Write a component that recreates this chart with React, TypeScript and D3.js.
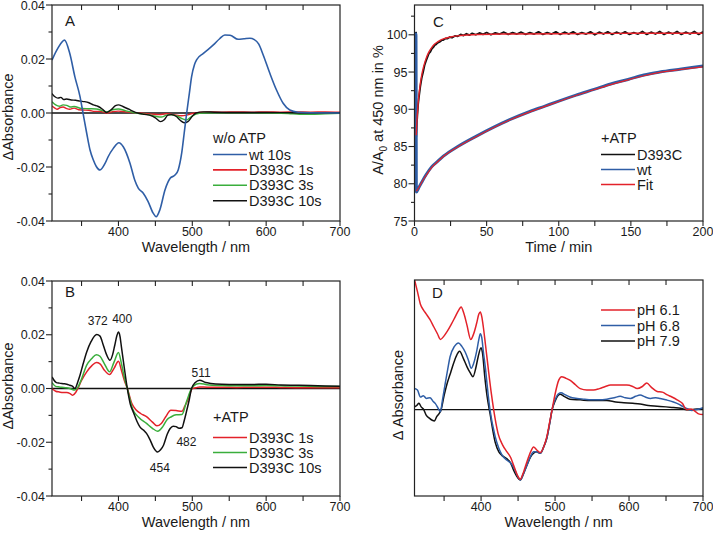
import React from 'react';
import * as d3 from 'd3';

type P = [number, number];

const FONT = '"Liberation Sans", Arial, Helvetica, sans-serif';
const RED = '#e3222a';
const GREEN = '#3aae3c';
const BLUE = '#2f5ea6';
const BLACK = '#111111';

// ---------- Panel A (w/o ATP) ----------
const A_wt10: P[] = [[310,0.0196],[318,0.024],[327,0.027],[334,0.0221],[341,0.0134],[348,0.006],[352,0],[357,-0.0075],[361.5,-0.0137],[366,-0.0174],[370,-0.0198],[375,-0.0211],[382,-0.0186],[386,-0.0162],[393,-0.0131],[400.6,-0.011],[406.5,-0.0125],[415.6,-0.0186],[422,-0.0248],[427,-0.0279],[433.6,-0.0297],[440,-0.0327],[447,-0.0371],[451,-0.0384],[456,-0.0359],[463,-0.0285],[470,-0.0242],[476.5,-0.023],[481,-0.021],[485.6,-0.0149],[489,-0.0075],[492.4,0],[496,0.0073],[499,0.0134],[503,0.018],[506,0.0198],[515,0.0221],[528.5,0.0252],[537,0.0275],[544,0.0289],[551,0.0288],[562,0.0273],[570,0.0275],[578,0.0277],[584,0.0272],[590,0.0255],[596,0.0215],[605,0.0147],[614,0.0085],[623,0.0036],[632,0.0011],[643,0.0003],[660,0.0001],[700,0.0]];
const A_d1s: P[] = [[310,0.0026],[314,0.0018],[317,0.0014],[321,0.002],[325,0.0022],[330,0.0016],[334,0.0014],[340,0.0018],[346,0.0012],[352,0.0011],[360,0.001],[368,0.0006],[375,0.0006],[384,0],[392,0.0005],[400,0.0007],[410,0.0004],[420,0.0002],[435,-0.0002],[445,-0.0004],[455,-0.0006],[465,-0.0003],[475,-0.0006],[485,-0.001],[492,-0.0008],[500,-0.0002],[510,0.0002],[520,0.0004],[540,0.0003],[560,0.0004],[580,0.0003],[600,0.0004],[620,0.0003],[640,0.0004],[660,0.0003],[680,0.0004],[700,0.0003]];
const A_d3s: P[] = [[310,0.0042],[315,0.003],[320,0.0025],[325,0.003],[330,0.0028],[335,0.0022],[340,0.0024],[350,0.0017],[360,0.0016],[370,0.0015],[378,0.0009],[384,0.0004],[392,0.0012],[400,0.0015],[410,0.0008],[420,0.0002],[430,-0.0003],[440,-0.0006],[450,-0.0012],[458,-0.0015],[465,-0.0008],[470,-0.0006],[480,-0.0012],[487,-0.0022],[492,-0.0026],[498,-0.0015],[505,-0.0004],[515,0],[530,0.0001],[560,0.0001],[600,0],[630,-0.0002],[645,-0.0005],[660,-0.0005],[680,-0.0003],[700,-0.0001]];
const A_d10s: P[] = [[310,0.0072],[314,0.006],[318,0.0055],[322,0.0058],[326,0.005],[330,0.0052],[336,0.0048],[342,0.0047],[348,0.0044],[354,0.0042],[360,0.0038],[366,0.003],[372,0.0025],[378,0.0015],[384,0.0002],[390,0.0012],[396,0.0027],[400,0.003],[406,0.0024],[414,0.0014],[420,0.0006],[426,0],[435,-0.0005],[442,-0.0008],[450,-0.0018],[457,-0.0032],[462,-0.0025],[467,-0.0008],[472,-0.0006],[478,-0.0012],[484,-0.0028],[489,-0.0036],[494,-0.0032],[500,-0.0012],[505,0],[515,0.0004],[530,0.0003],[560,0.0002],[600,0.0002],[640,0.0001],[680,0.0001],[700,0.0001]];

// ---------- Panel B (+ATP) ----------
const B_d1s: P[] = [[310,0],[315,-0.001],[320,-0.0013],[325,-0.0015],[330,-0.0015],[335,-0.002],[338,-0.0025],[342,-0.0015],[345,0],[350,0.003],[357,0.0062],[364,0.0085],[370,0.0097],[375,0.0092],[381,0.0068],[388,0.0052],[394,0.0075],[400,0.0101],[404,0.0068],[408,0.003],[412,0],[418,-0.0055],[424,-0.008],[430,-0.0093],[438,-0.0105],[446,-0.0125],[452,-0.0139],[458,-0.013],[464,-0.0105],[471,-0.0081],[478,-0.0082],[486,-0.0085],[490,-0.0065],[494,-0.0043],[500,0],[505,0.0003],[510,0.0006],[520,0.0005],[540,0.0005],[560,0.0004],[580,0.0005],[600,0.0005],[620,0.0004],[640,0.0003],[660,0.0003],[680,0.0003],[700,0.0003]];
const B_d3s: P[] = [[310,0.0022],[315,0.0008],[320,0.0006],[328,0.0003],[334,0],[341,-0.0006],[345,0.0005],[350,0.0035],[357,0.0087],[364,0.0112],[370,0.0126],[375,0.012],[381,0.0092],[388,0.0062],[394,0.0098],[400,0.0134],[404,0.0093],[408,0.004],[412,0],[419,-0.0075],[427,-0.0106],[438,-0.013],[446,-0.0148],[453,-0.0159],[460,-0.0142],[466,-0.0115],[471,-0.0106],[478,-0.0098],[486,-0.0097],[492,-0.005],[499,0],[505,0.0016],[510,0.0019],[520,0.0014],[540,0.0011],[560,0.001],[580,0.001],[600,0.0011],[620,0.001],[640,0.0009],[660,0.0008],[680,0.0007],[700,0.0007]];
const B_d10s: P[] = [[310,0.0043],[316,0.0022],[320,0.002],[325,0.0018],[330,0.0016],[334,0.0012],[338,0.0008],[341,0],[345,0.0025],[348,0.005],[352,0.009],[357,0.0136],[363,0.0175],[370.5,0.0201],[375,0.0195],[379.5,0.0161],[384,0.0125],[388.5,0.0105],[392,0.0125],[395,0.0161],[398,0.0198],[400,0.021],[402,0.0195],[404,0.0155],[408,0.0075],[412,0],[416,-0.0058],[420,-0.0087],[425,-0.0122],[429,-0.0143],[434,-0.0155],[438,-0.0167],[443,-0.0192],[447,-0.0217],[453,-0.0236],[457,-0.0228],[461,-0.0211],[466,-0.017],[470,-0.0149],[474,-0.014],[478,-0.0142],[482,-0.0148],[486,-0.0146],[489,-0.012],[492,-0.0087],[496,-0.004],[499,0],[504,0.0022],[510,0.0031],[518,0.0022],[525,0.0019],[540,0.0016],[560,0.0015],[580,0.0015],[600,0.0016],[620,0.0013],[640,0.0012],[660,0.0011],[680,0.0009],[700,0.0008]];

// ---------- Panel C (kinetics at 450 nm) ----------
const C_d393c: P[] = [[0,100.3],[0.6,100.2],[1.1,100.3],[1.2,86.3],[1.5,87.6],[2,89.2],[2.5,90.6],[3,91.5],[4,93.0],[5,94.2],[6,95.0],[7,95.9],[8,96.5],[9,97.0],[10,97.5],[11,97.7],[12,98.1],[13,98.3],[14,98.6],[15,98.7],[16,98.9],[17,99.0],[18,99.1],[19,99.3],[20,99.3],[21.5,99.5],[23,99.5],[24.5,99.7],[26,99.6],[28,99.85],[30,99.8],[32,100.05],[34,99.9],[36,100.15],[38,99.95],[40,100.2],[42.5,100.0],[45,100.25],[47.5,100.05],[50,100.3],[53,100.0],[56,100.25],[59,100.1],[62,100.35],[65,100.05],[68,100.3],[71,100.1],[74,100.35],[77,100.05],[80,100.3],[83,100.1],[86,100.4],[89,100.05],[92,100.3],[95,100.1],[98,100.4],[101,100.05],[104,100.35],[107,100.1],[110,100.4],[113,100.05],[116,100.3],[119,100.1],[122,100.4],[125,100.0],[128,100.35],[131,100.1],[134,100.4],[137,100.05],[140,100.35],[143,100.1],[146,100.4],[149,100.05],[152,100.3],[155,100.1],[158,100.45],[161,100.05],[164,100.35],[167,100.1],[170,100.45],[173,100.05],[176,100.35],[179,100.1],[182,100.45],[185,100.05],[188,100.35],[191,100.1],[194,100.45],[197,100.05],[200,100.4]];
const C_fitD393c: P[] = [[1.2,86.5],[1.5,87.8],[2,89.4],[2.5,90.7],[3,91.8],[4,93.4],[5,94.6],[6,95.5],[7,96.2],[8,96.8],[10,97.7],[12,98.3],[14,98.75],[16,99.05],[18,99.3],[20,99.45],[25,99.7],[30,99.85],[40,100.0],[60,100.1],[100,100.15],[150,100.2],[200,100.2]];
const C_wt: P[] = [[0,100.1],[1.0,100.1],[1.3,78.9],[3,79.5],[5,80.2],[8,81.2],[12,82.3],[16,83.0],[20,83.7],[30,85.0],[43,86.4],[55,87.6],[66,88.6],[80,89.7],[90,90.4],[100,91.1],[112,91.9],[125,92.7],[136,93.4],[148,94.0],[159,94.6],[170,95.0],[185,95.4],[200,95.8]];
const C_fitWt: P[] = [[1.3,79.0],[3,79.5],[5,80.2],[8,81.1],[12,82.2],[16,82.95],[20,83.65],[30,84.95],[43,86.35],[55,87.55],[66,88.55],[80,89.65],[90,90.35],[100,91.05],[112,91.85],[125,92.65],[136,93.3],[148,93.95],[159,94.5],[170,94.95],[185,95.35],[200,95.7]];

// ---------- Panel D (pH dependence, arbitrary units) ----------
const D_ph61: P[] = [[310,1.85],[314,1.68],[318,1.5],[322,1.42],[326,1.36],[331,1.28],[336,1.18],[341,1.08],[345,1.0],[350,1.05],[354,1.11],[360,1.22],[365,1.32],[370,1.42],[373,1.46],[377,1.36],[381,1.2],[386,1.0],[390,1.08],[394,1.23],[397,1.36],[399,1.39],[401,1.32],[403,1.18],[406,0.92],[410,0.56],[414,0.22],[417,0],[423,-0.34],[429,-0.5],[435,-0.6],[440,-0.68],[444,-0.79],[449,-0.93],[453,-0.99],[457,-0.9],[462,-0.74],[467,-0.6],[471,-0.53],[475,-0.57],[480,-0.61],[485,-0.52],[489,-0.38],[493,-0.16],[496,0],[500,0.22],[505,0.42],[509,0.47],[514,0.45],[520,0.42],[527,0.36],[534,0.3],[543,0.28],[552,0.28],[560,0.3],[568,0.33],[575,0.35],[585,0.35],[597,0.35],[605,0.33],[611,0.3],[618,0.33],[624,0.38],[630,0.32],[638,0.26],[645,0.25],[652,0.21],[658,0.18],[665,0.14],[672,0.09],[678,0],[684,0.01],[689,-0.02],[694,-0.06],[700,-0.07]];
const D_ph68: P[] = [[310,0.3],[314,0.28],[318,0.18],[322,0.2],[326,0.16],[331,0.17],[335,0.12],[338,0.09],[342,0.02],[345,-0.03],[348,0.15],[351.5,0.37],[355,0.58],[358,0.75],[364,0.9],[369.5,0.95],[374,0.9],[378.5,0.82],[383,0.7],[386.7,0.59],[390,0.66],[394,0.83],[397,1.0],[399,1.08],[401,1.02],[403,0.83],[406,0.58],[408,0.37],[412,0],[419,-0.38],[424,-0.55],[428,-0.64],[435,-0.72],[440,-0.76],[444,-0.82],[449,-0.94],[453,-1.0],[457,-0.92],[462,-0.79],[467,-0.66],[471,-0.6],[475,-0.6],[480,-0.62],[485,-0.52],[489,-0.4],[493,-0.18],[496,0],[500,0.14],[505,0.23],[508,0.24],[514,0.21],[520,0.18],[530,0.16],[540,0.15],[548,0.14],[560,0.14],[570,0.15],[580,0.17],[588,0.19],[595,0.17],[602,0.16],[609,0.19],[615,0.21],[622,0.18],[629,0.16],[636,0.17],[642,0.16],[650,0.14],[660,0.11],[667,0.08],[673.5,0.04],[680,0.01],[685,-0.01],[690,0],[695,0.01],[700,0.03]];
const D_ph79: P[] = [[310,0.04],[313,0.06],[316,0.09],[319,0.04],[322,0.01],[326,-0.08],[330,-0.12],[334,-0.15],[337,-0.16],[340,-0.1],[343,-0.06],[346,0],[350,0.2],[354,0.37],[358,0.5],[361,0.6],[366,0.75],[371,0.83],[376,0.73],[381,0.61],[385,0.53],[389,0.47],[393,0.6],[396,0.75],[400,0.88],[402,0.8],[405,0.47],[408,0.2],[412,-0.05],[419,-0.46],[424,-0.6],[428,-0.65],[435,-0.7],[440,-0.76],[444,-0.86],[449,-0.96],[453,-1.0],[457,-0.92],[462,-0.79],[467,-0.67],[471,-0.62],[475,-0.6],[480,-0.62],[485,-0.52],[489,-0.4],[493,-0.18],[496,0],[500,0.12],[504,0.2],[507,0.22],[512,0.19],[520,0.15],[534,0.14],[548,0.13],[560,0.13],[570,0.13],[582,0.11],[593,0.1],[605,0.09],[615,0.08],[626,0.06],[638,0.05],[650,0.04],[660,0.03],[670,0.02],[678,0],[685,0],[692,0.01],[700,0.01]];

// ---------- Ticks & labels ----------
const WL_MAJOR = [400, 500, 600, 700];
const WL_MINOR = [350, 450, 550, 650];
const WL_TOP = [350, 400, 450, 500, 550, 600, 650];
const ABS_MAJOR = [-0.04, -0.02, 0, 0.02, 0.04];
const ABS_MINOR = [-0.03, -0.01, 0.01, 0.03];
const TIME_MAJOR = [0, 50, 100, 150, 200];
const TIME_MINOR = [25, 75, 125, 175];
const TIME_TOP = [25, 50, 75, 100, 125, 150, 175];
const PCT_MAJOR = [75, 80, 85, 90, 95, 100];
const PCT_MINOR = [77.5, 82.5, 87.5, 92.5, 97.5, 102.5];

const LEG_A = ['wt 10s', 'D393C 1s', 'D393C 3s', 'D393C 10s'];
const LEG_B = ['D393C 1s', 'D393C 3s', 'D393C 10s'];
const LEG_C = ['D393C', 'wt', 'Fit'];
const LEG_D = ['pH 6.1', 'pH 6.8', 'pH 7.9'];
const ANNOT_B: { label: string; nm: number; v: number }[] = [
  { label: '372', nm: 372, v: 0.0236 },
  { label: '400', nm: 405, v: 0.0243 },
  { label: '511', nm: 512, v: 0.0044 },
  { label: '482', nm: 492, v: -0.0213 },
  { label: '454', nm: 456, v: -0.0311 },
];

type Series = { data: P[]; color: string; width: number; smooth?: boolean };

type PanelProps = {
  id: string;
  x0: number; x1: number; y0: number; y1: number;
  xDomain: [number, number]; yDomain: [number, number];
  xMajor: number[]; xMinor: number[]; xTop: number[];
  yMajor?: number[]; yMinor?: number[]; yFmt?: (v: number) => string;
  xTitle: string;
  yTitle: React.ReactNode; yTitleX: number; yTitleY: number;
  letter: string; letterX: number; letterY: number;
  series: Series[];
  zero?: boolean;
  legend: { title?: string; x: number; titleY?: number; y: number; dy: number; items: string[]; colors: string[] };
  children?: (x: d3.ScaleLinear<number, number>, y: d3.ScaleLinear<number, number>) => React.ReactNode;
};

function Panel(p: PanelProps) {
  const x = d3.scaleLinear().domain(p.xDomain).range([p.x0, p.x1]);
  const y = d3.scaleLinear().domain(p.yDomain).range([p.y1, p.y0]);
  const mk = (s: Series) =>
    d3.line<P>().x(d => x(d[0])).y(d => y(d[1])).curve(s.smooth === false ? d3.curveLinear : d3.curveMonotoneX)(s.data) || '';
  const L = p.legend;
  return (
    <g fontFamily={FONT} fill="#1a1a1a">
      <defs>
        <clipPath id={'clip' + p.id}>
          <rect x={p.x0} y={p.y0} width={p.x1 - p.x0} height={p.y1 - p.y0} />
        </clipPath>
      </defs>
      {p.zero && (
        <line x1={p.x0} x2={p.x1} y1={y(0)} y2={y(0)} stroke="#111" strokeWidth={1.3} />
      )}
      <g clipPath={`url(#clip${p.id})`}>
        {p.series.map((s, i) => (
          <path key={i} d={mk(s)} fill="none" stroke={s.color} strokeWidth={s.width} strokeLinejoin="round" />
        ))}
      </g>
      <rect x={p.x0} y={p.y0} width={p.x1 - p.x0} height={p.y1 - p.y0} fill="none" stroke="#222" strokeWidth={1.2} />
      {p.xMajor.map(v => (
        <g key={'xm' + v}>
          <line x1={x(v)} x2={x(v)} y1={p.y1} y2={p.y1 + 5} stroke="#222" strokeWidth={1.1} />
          <text x={x(v)} y={p.y1 + 15} textAnchor="middle" fontSize={12.5}>{v}</text>
        </g>
      ))}
      {p.xMinor.map(v => (
        <line key={'xn' + v} x1={x(v)} x2={x(v)} y1={p.y1} y2={p.y1 + 5} stroke="#222" strokeWidth={1.1} />
      ))}
      {p.xTop.map(v => (
        <line key={'xt' + v} x1={x(v)} x2={x(v)} y1={p.y0} y2={p.y0 + 5} stroke="#222" strokeWidth={1.1} />
      ))}
      {p.yMajor && p.yMajor.map(v => (
        <g key={'ym' + v}>
          <line x1={p.x0 - 6} x2={p.x0} y1={y(v)} y2={y(v)} stroke="#222" strokeWidth={1.1} />
          <text x={p.x0 - 7} y={y(v) + 4.5} textAnchor="end" fontSize={12.5}>{p.yFmt ? p.yFmt(v) : v}</text>
        </g>
      ))}
      {p.yMinor && p.yMinor.map(v => (
        <line key={'yn' + v} x1={p.x0 - 3.5} x2={p.x0} y1={y(v)} y2={y(v)} stroke="#222" strokeWidth={1.1} />
      ))}
      <text x={(p.x0 + p.x1) / 2} y={p.y1 + 31} textAnchor="middle" fontSize={14.5}>{p.xTitle}</text>
      <text transform={`translate(${p.yTitleX},${p.yTitleY}) rotate(-90)`} textAnchor="middle" fontSize={14.5}>{p.yTitle}</text>
      <text x={p.letterX} y={p.letterY} fontSize={15}>{p.letter}</text>
      {p.children && p.children(x, y)}
      {L.title && <text x={L.x} y={L.titleY} fontSize={14.5}>{L.title}</text>}
      {L.items.map((it, i) => (
        <g key={it}>
          <line x1={L.x} x2={L.x + 34} y1={L.y + i * L.dy} y2={L.y + i * L.dy} stroke={L.colors[i]} strokeWidth={1.6} />
          <text x={L.x + 36} y={L.y + i * L.dy + 5} fontSize={14.5}>{it}</text>
        </g>
      ))}
    </g>
  );
}

const fmtAbs = (v: number) => d3.format('.2f')(v).replace('−', '-');

export default function App() {
  return (
    <svg width={713} height={535} style={{ position: 'absolute', left: 0, top: 0, background: '#fff' }}>
      <rect x={0} y={0} width={713} height={535} fill="#fff" />
      <Panel
        id="A" x0={52} x1={340} y0={5} y1={221}
        xDomain={[310, 700]} yDomain={[-0.04, 0.04]}
        xMajor={WL_MAJOR} xMinor={WL_MINOR} xTop={WL_TOP}
        yMajor={ABS_MAJOR} yMinor={ABS_MINOR} yFmt={fmtAbs}
        xTitle="Wavelength / nm"
        yTitle="ΔAbsorbance" yTitleX={13} yTitleY={117}
        letter="A" letterX={65} letterY={26}
        zero
        series={[
          { data: A_d1s, color: RED, width: 1.4 },
          { data: A_d3s, color: GREEN, width: 1.4 },
          { data: A_d10s, color: BLACK, width: 1.4 },
          { data: A_wt10, color: BLUE, width: 1.6 },
        ]}
        legend={{ title: 'w/o ATP', x: 213, titleY: 143, y: 154.5, dy: 15.4, items: LEG_A, colors: [BLUE, RED, GREEN, BLACK] }}
      />
      <Panel
        id="B" x0={52} x1={340} y0={281} y1={496}
        xDomain={[310, 700]} yDomain={[-0.04, 0.04]}
        xMajor={WL_MAJOR} xMinor={WL_MINOR} xTop={WL_TOP}
        yMajor={ABS_MAJOR} yMinor={ABS_MINOR} yFmt={fmtAbs}
        xTitle="Wavelength / nm"
        yTitle="ΔAbsorbance" yTitleX={13} yTitleY={386}
        letter="B" letterX={65} letterY={297}
        zero
        series={[
          { data: B_d1s, color: RED, width: 1.5 },
          { data: B_d3s, color: GREEN, width: 1.5 },
          { data: B_d10s, color: BLACK, width: 1.5 },
        ]}
        legend={{ title: '+ATP', x: 213, titleY: 422, y: 437.5, dy: 15, items: LEG_B, colors: [RED, GREEN, BLACK] }}
      >
        {(x, y) => ANNOT_B.map(a => (
          <text key={a.label} x={x(a.nm)} y={y(a.v)} textAnchor="middle" fontSize={12}>{a.label}</text>
        ))}
      </Panel>
      <Panel
        id="C" x0={414.5} x1={703} y0={5} y1={221}
        xDomain={[0, 200]} yDomain={[75, 104]}
        xMajor={TIME_MAJOR} xMinor={TIME_MINOR} xTop={TIME_TOP}
        yMajor={PCT_MAJOR} yMinor={PCT_MINOR}
        xTitle="Time / min"
        yTitle={<>A/A<tspan fontSize={10} dy={4}>0</tspan><tspan dy={-4}> at 450 nm in %</tspan></>}
        yTitleX={383} yTitleY={110}
        letter="C" letterX={433} letterY={27}
        series={[
          { data: C_d393c, color: BLACK, width: 1.8, smooth: false },
          { data: C_wt, color: BLUE, width: 3 },
          { data: C_fitD393c, color: RED, width: 1.4 },
          { data: C_fitWt, color: RED, width: 1.2 },
        ]}
        legend={{ title: '+ATP', x: 601, titleY: 143, y: 154.5, dy: 15, items: LEG_C, colors: [BLACK, BLUE, RED] }}
      />
      <Panel
        id="D" x0={414.5} x1={703} y0={280} y1={496}
        xDomain={[310, 700]} yDomain={[-1.228, 1.845]}
        xMajor={WL_MAJOR} xMinor={WL_MINOR} xTop={WL_TOP}
        xTitle="Wavelength / nm"
        yTitle="Δ Absorbance" yTitleX={403} yTitleY={395}
        letter="D" letterX={432} letterY={298}
        zero
        series={[
          { data: D_ph79, color: BLACK, width: 1.5 },
          { data: D_ph68, color: BLUE, width: 1.5 },
          { data: D_ph61, color: RED, width: 1.5 },
        ]}
        legend={{ x: 601, y: 310, dy: 15.5, items: LEG_D, colors: [RED, BLUE, BLACK] }}
      />
    </svg>
  );
}
